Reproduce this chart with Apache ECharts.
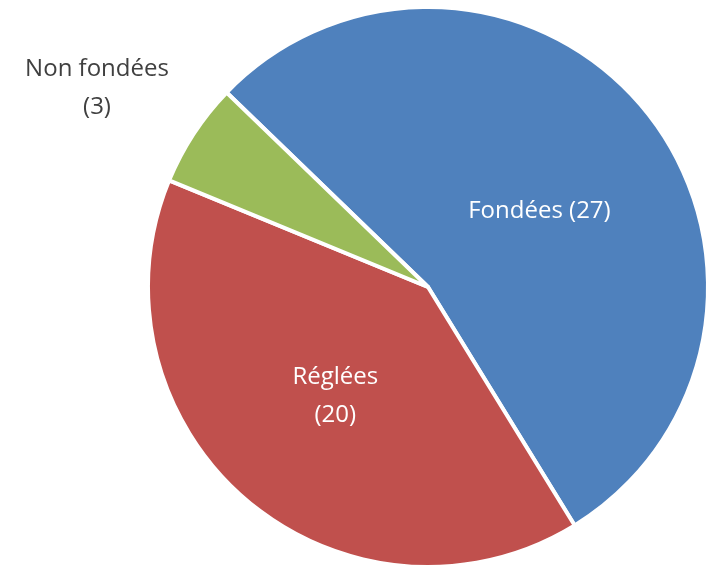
<!DOCTYPE html>
<html><head><meta charset="utf-8">
<script src="https://cdn.jsdelivr.net/npm/echarts@6/dist/echarts.min.js"></script>
<style>html,body{margin:0;padding:0;background:#fff}#c{width:716px;height:573px}</style>
</head><body><div id="c"></div>
<script>
const categories = ['Fondées', 'Réglées', 'Non fondées'];
const values = [27, 20, 3];
const colors = ['#4f81bd', '#c0504d', '#9bbb59'];
const labelTexts = ['Fondées (27)', 'Réglées\n(20)', 'Non fondées\n(3)'];

const chart = echarts.init(document.getElementById('c'));
chart.setOption({
  animation: false,
  series: [{
    type: 'pie',
    center: [428, 287],
    radius: [0, 280],
    startAngle: 136,
    clockwise: true,
    itemStyle: { borderColor: '#fff', borderWidth: 4 },
    labelLine: { show: false },
    label: {
      position: 'inside',
      fontFamily: 'Open Sans',
      fontSize: 24,
      lineHeight: 38,
      color: '#fff',
      formatter: p => labelTexts[p.dataIndex]
    },
    labelLayout: p => p.dataIndex === 2 ? { x: 97, y: 88, align: 'center', verticalAlign: 'middle' } :
                      (p.dataIndex === 0 ? { dy: 14 } : {}),
    data: categories.map((n, i) => ({
      name: n, value: values[i], itemStyle: { color: colors[i] },
      label: i === 2 ? { color: '#404040' } : {}
    }))
  }]
});
</script></body></html>
